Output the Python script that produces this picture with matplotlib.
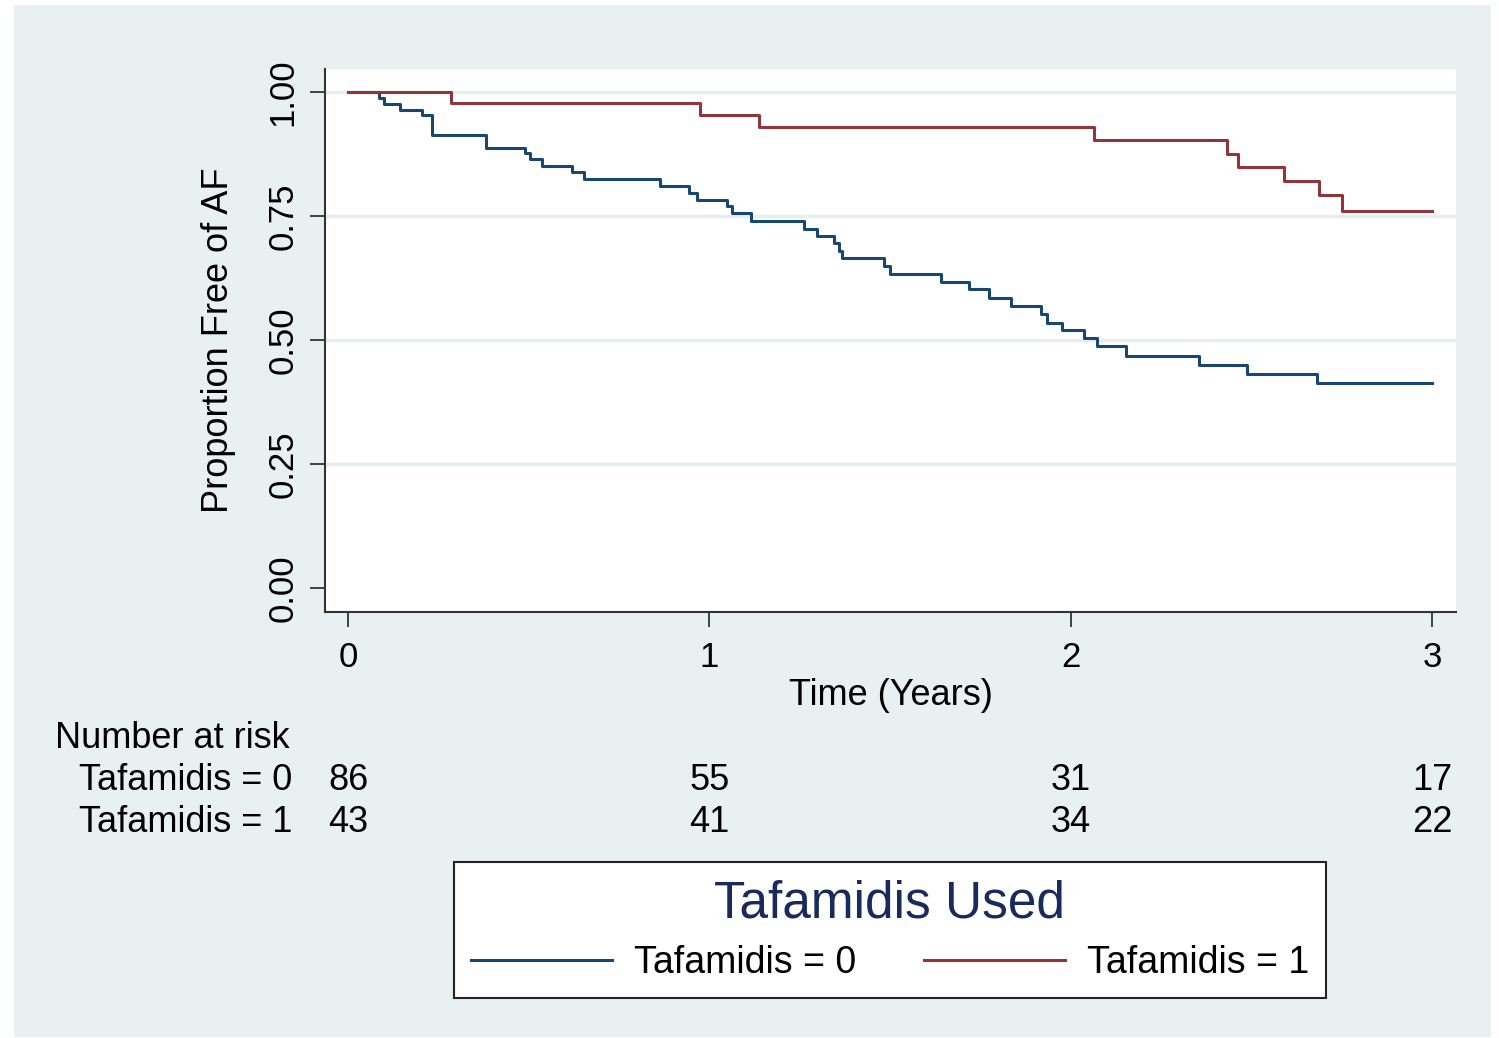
import matplotlib
matplotlib.use("Agg")
import matplotlib.pyplot as plt
from matplotlib.patches import Rectangle
from matplotlib.lines import Line2D
from matplotlib.transforms import blended_transform_factory

plt.rcParams['font.family'] = ['Liberation Sans', 'DejaVu Sans']

# Kaplan-Meier estimates: event times (years) and survival after each step
t_untreated = [0.0, 0.086, 0.100, 0.144, 0.204, 0.232, 0.381, 0.490, 0.504, 0.537,
               0.620, 0.652, 0.864, 0.943, 0.966, 1.049, 1.063, 1.114, 1.261, 1.298,
               1.344, 1.358, 1.368, 1.483, 1.501, 1.640, 1.718, 1.774, 1.834, 1.917,
               1.935, 1.977, 2.037, 2.074, 2.152, 2.355, 2.489, 2.683, 3.0]
s_untreated = [1.000, 0.988, 0.976, 0.964, 0.953, 0.913, 0.888, 0.878, 0.866, 0.851,
               0.839, 0.824, 0.811, 0.797, 0.782, 0.770, 0.756, 0.740, 0.723, 0.710,
               0.696, 0.679, 0.665, 0.649, 0.634, 0.617, 0.602, 0.585, 0.568, 0.552,
               0.535, 0.520, 0.504, 0.487, 0.467, 0.450, 0.432, 0.414, 0.414]

t_treated = [0.0, 0.285, 0.973, 1.137, 2.065, 2.434, 2.462, 2.591, 2.688, 2.751, 3.0]
s_treated = [1.000, 0.977, 0.954, 0.930, 0.903, 0.875, 0.848, 0.821, 0.792, 0.760, 0.760]

risk_times = [0, 1, 2, 3]
risk_untreated = [86, 55, 31, 17]
risk_treated = [43, 41, 34, 22]

group_labels = ["Tafamidis = 0", "Tafamidis = 1"]
x_ticks = [0, 1, 2, 3]
y_ticks = [0.00, 0.25, 0.50, 0.75, 1.00]

BLUE = "#1a476f"
RED = "#90353b"
PANEL = "#e8f0f2"
GRID = "#e6eef1"

W, H = 1499, 1038
fig = plt.figure(figsize=(W / 100, H / 100), dpi=100, facecolor="white")


def fx(px):
    return px / W


def fy(py):
    return 1 - py / H


# light panel behind everything
fig.patches.append(Rectangle((fx(14), fy(1037)), fx(1491) - fx(14), fy(5) - fy(1037),
                             transform=fig.transFigure, facecolor=PANEL,
                             edgecolor="none", zorder=-10))

ax = fig.add_axes([fx(325), fy(612), fx(1456) - fx(325), fy(69) - fy(612)])
ax.set_zorder(1)
ax.set_facecolor("white")

ax.step(t_untreated, s_untreated, where="post", color=BLUE, lw=2.2, zorder=3)
ax.step(t_treated, s_treated, where="post", color=RED, lw=2.2, zorder=3)

ax.set_xlim(-0.0637, 3.0665)
ax.set_ylim(-0.0485, 1.0465)

for yv in y_ticks[1:]:
    ax.axhline(yv, color=GRID, lw=2.5, zorder=1)

ax.set_xticks(x_ticks)
ax.set_xticklabels([str(v) for v in x_ticks])
ax.set_yticks(y_ticks)
ax.set_yticklabels([f"{v:.2f}" for v in y_ticks])
ax.tick_params(axis="both", labelsize=25, length=11, width=1.3, color="#333333",
               labelcolor="black")
ax.tick_params(axis="x", pad=10)
ax.tick_params(axis="y", pad=7.5)
for lab in ax.get_yticklabels():
    lab.set_rotation(90)
    lab.set_va("center")
    lab.set_ha("right")

for side in ("top", "right"):
    ax.spines[side].set_visible(False)
for side in ("left", "bottom"):
    ax.spines[side].set_color("#333333")
    ax.spines[side].set_linewidth(1.5)

ax.set_xlabel("Time (Years)", fontsize=26, labelpad=2.5)
ax.set_ylabel("Proportion Free of AF", fontsize=26, labelpad=22)

# number-at-risk table
tr = blended_transform_factory(ax.transData, fig.transFigure)
fig.text(fx(55), fy(738), "Number at risk", fontsize=26, ha="left", va="center")
for row_y, lab, counts in [(780, group_labels[0], risk_untreated),
                           (823, group_labels[1], risk_treated)]:
    fig.text(fx(292), fy(row_y), lab, fontsize=26, ha="right", va="center")
    for t, n in zip(risk_times, counts):
        ax.text(t, fy(row_y), str(n), transform=tr, fontsize=26,
                ha="center", va="center", clip_on=False)

# legend
handles = [Line2D([], [], color=BLUE, lw=2.2), Line2D([], [], color=RED, lw=2.2)]
leg = fig.legend(handles, group_labels, ncol=2, loc="center",
                 bbox_to_anchor=(fx(890), fy(930)), fontsize=27,
                 title="Tafamidis Used", title_fontsize=37,
                 frameon=True, fancybox=False, edgecolor="#222222", framealpha=1,
                 handlelength=3.76, handletextpad=0.59, columnspacing=1.79,
                 borderpad=0.45, labelspacing=0.45)
leg.get_frame().set_linewidth(1.5)
leg.get_frame().set_facecolor("white")
leg.get_title().set_color("#1b2a5c")

fig.savefig("out.png", dpi=100, facecolor="white")
